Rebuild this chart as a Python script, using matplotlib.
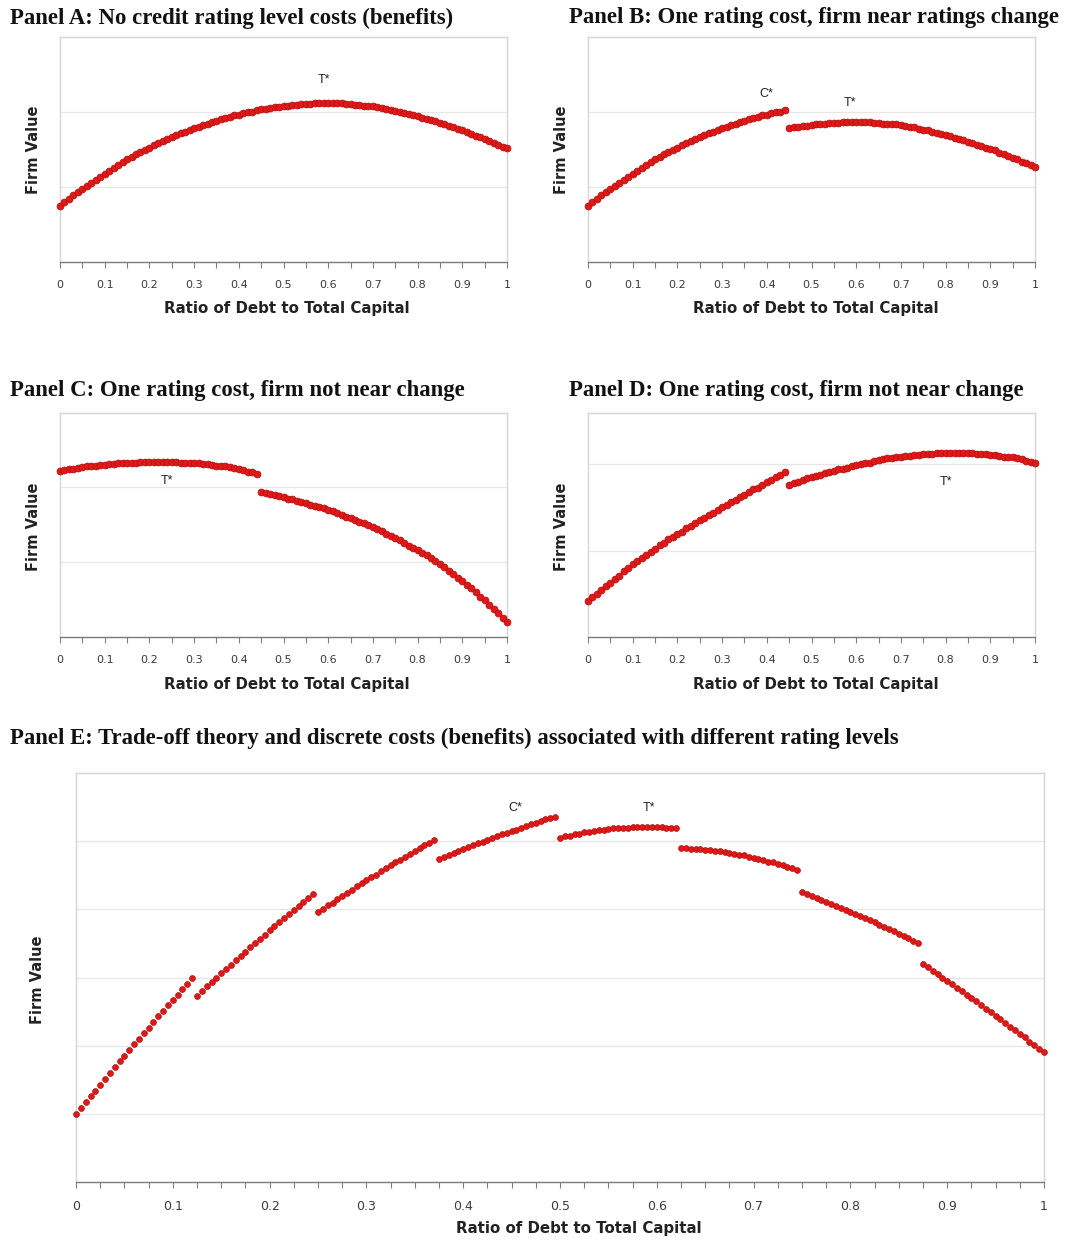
import numpy as np
import matplotlib.pyplot as plt

# Debt-to-capital grids the firm value was evaluated on
debt_ratio = np.linspace(0, 1, 101)
debt_ratio_fine = np.linspace(0, 1, 201)

# Firm value (in gridline units) for each panel
value_a = [0.75, 0.80, 0.84, 0.89, 0.93, 0.97, 1.01, 1.06, 1.10, 1.14,
           1.18, 1.22, 1.26, 1.30, 1.33, 1.37, 1.40, 1.44, 1.47, 1.50,
           1.53, 1.56, 1.59, 1.62, 1.64, 1.67, 1.70, 1.72, 1.74, 1.77,
           1.79, 1.81, 1.83, 1.85, 1.87, 1.89, 1.91, 1.92, 1.94, 1.96,
           1.97, 1.99, 2.00, 2.01, 2.03, 2.04, 2.05, 2.06, 2.07, 2.07,
           2.08, 2.09, 2.10, 2.10, 2.11, 2.11, 2.11, 2.12, 2.12, 2.12,
           2.12, 2.12, 2.12, 2.12, 2.11, 2.11, 2.10, 2.10, 2.09, 2.09,
           2.08, 2.07, 2.06, 2.05, 2.03, 2.02, 2.01, 1.99, 1.98, 1.96,
           1.95, 1.93, 1.91, 1.90, 1.88, 1.86, 1.84, 1.82, 1.80, 1.78,
           1.76, 1.74, 1.71, 1.69, 1.67, 1.64, 1.62, 1.59, 1.57, 1.54,
           1.52]

value_b = [0.75, 0.80, 0.84, 0.89, 0.93, 0.97, 1.01, 1.06, 1.10, 1.14,
           1.18, 1.22, 1.26, 1.30, 1.33, 1.37, 1.40, 1.44, 1.47, 1.50,
           1.53, 1.56, 1.59, 1.62, 1.64, 1.67, 1.70, 1.72, 1.74, 1.77,
           1.79, 1.81, 1.83, 1.85, 1.87, 1.89, 1.91, 1.92, 1.94, 1.96,
           1.97, 1.99, 2.00, 2.01, 2.03,
           1.79, 1.80, 1.81, 1.82, 1.82, 1.83, 1.84, 1.85, 1.85, 1.86,
           1.86, 1.86, 1.87, 1.87, 1.87, 1.87, 1.87, 1.87, 1.87, 1.86,
           1.86, 1.85, 1.85, 1.84, 1.84, 1.83, 1.82, 1.81, 1.80, 1.78,
           1.77, 1.76, 1.74, 1.73, 1.71, 1.70, 1.68, 1.66, 1.65, 1.63,
           1.61, 1.59, 1.57, 1.55, 1.53, 1.51, 1.49, 1.46, 1.44, 1.42,
           1.39, 1.37, 1.34, 1.32, 1.29, 1.27]

value_c = [2.22, 2.23, 2.24, 2.25, 2.26, 2.27, 2.28, 2.28, 2.29, 2.30,
           2.30, 2.31, 2.31, 2.32, 2.32, 2.33, 2.33, 2.33, 2.34, 2.34,
           2.34, 2.34, 2.34, 2.34, 2.34, 2.34, 2.34, 2.33, 2.33, 2.33,
           2.32, 2.32, 2.31, 2.31, 2.30, 2.29, 2.28, 2.28, 2.27, 2.26,
           2.24, 2.23, 2.21, 2.20, 2.18,
           1.94, 1.93, 1.91, 1.90, 1.88, 1.87, 1.85, 1.84, 1.82, 1.81,
           1.79, 1.77, 1.75, 1.74, 1.72, 1.70, 1.68, 1.66, 1.63, 1.61,
           1.59, 1.57, 1.54, 1.52, 1.49, 1.47, 1.44, 1.41, 1.38, 1.35,
           1.32, 1.29, 1.26, 1.22, 1.19, 1.16, 1.12, 1.09, 1.05, 1.01,
           0.97, 0.93, 0.88, 0.84, 0.79, 0.75, 0.70, 0.65, 0.60, 0.54,
           0.49, 0.43, 0.38, 0.32, 0.26, 0.20]

value_d = [0.42, 0.46, 0.50, 0.55, 0.59, 0.63, 0.67, 0.71, 0.76, 0.80,
           0.84, 0.88, 0.92, 0.95, 0.99, 1.02, 1.06, 1.09, 1.13, 1.16,
           1.19, 1.22, 1.26, 1.29, 1.32, 1.35, 1.38, 1.41, 1.44, 1.47,
           1.50, 1.53, 1.56, 1.59, 1.62, 1.65, 1.68, 1.71, 1.73, 1.76,
           1.79, 1.82, 1.85, 1.88, 1.91,
           1.76, 1.78, 1.80, 1.82, 1.84, 1.85, 1.87, 1.88, 1.90, 1.91,
           1.92, 1.94, 1.95, 1.96, 1.98, 1.99, 2.00, 2.01, 2.02, 2.04,
           2.05, 2.06, 2.07, 2.07, 2.08, 2.09, 2.10, 2.10, 2.11, 2.11,
           2.12, 2.12, 2.12, 2.13, 2.13, 2.13, 2.13, 2.13, 2.13, 2.13,
           2.13, 2.13, 2.12, 2.12, 2.12, 2.11, 2.11, 2.10, 2.09, 2.09,
           2.08, 2.07, 2.06, 2.04, 2.03, 2.01]

value_e = [1.00, 1.09, 1.17, 1.26, 1.34, 1.43, 1.51, 1.60, 1.68, 1.77,
           1.85, 1.93, 2.02, 2.10, 2.18, 2.26, 2.35, 2.43, 2.51, 2.59,
           2.67, 2.75, 2.83, 2.91, 2.99,
           2.73, 2.80, 2.87, 2.93, 3.00, 3.06, 3.13, 3.19, 3.26, 3.32,
           3.38, 3.45, 3.51, 3.57, 3.63, 3.69, 3.75, 3.81, 3.87, 3.93,
           3.99, 4.05, 4.11, 4.17, 4.23,
           3.96, 4.01, 4.06, 4.10, 4.15, 4.20, 4.24, 4.29, 4.34, 4.38,
           4.43, 4.47, 4.51, 4.56, 4.60, 4.65, 4.69, 4.73, 4.77, 4.81,
           4.86, 4.90, 4.94, 4.98, 5.02,
           4.74, 4.77, 4.80, 4.83, 4.86, 4.88, 4.91, 4.94, 4.97, 4.99,
           5.02, 5.05, 5.07, 5.10, 5.12, 5.15, 5.17, 5.20, 5.22, 5.25,
           5.27, 5.29, 5.32, 5.34, 5.36,
           5.05, 5.07, 5.08, 5.10, 5.11, 5.13, 5.14, 5.15, 5.16, 5.17,
           5.18, 5.19, 5.19, 5.20, 5.20, 5.21, 5.21, 5.21, 5.21, 5.21,
           5.21, 5.21, 5.20, 5.20, 5.19,
           4.90, 4.90, 4.89, 4.89, 4.88, 4.87, 4.87, 4.86, 4.85, 4.84,
           4.82, 4.81, 4.80, 4.79, 4.77, 4.76, 4.74, 4.72, 4.70, 4.69,
           4.67, 4.65, 4.62, 4.60, 4.58,
           4.26, 4.23, 4.20, 4.17, 4.14, 4.11, 4.08, 4.05, 4.02, 3.99,
           3.96, 3.93, 3.90, 3.87, 3.84, 3.81, 3.77, 3.74, 3.71, 3.68,
           3.64, 3.61, 3.58, 3.54, 3.51,
           3.20, 3.15, 3.10, 3.05, 3.00, 2.95, 2.90, 2.85, 2.80, 2.75,
           2.70, 2.65, 2.59, 2.54, 2.49, 2.44, 2.39, 2.33, 2.28, 2.23,
           2.17, 2.12, 2.06, 2.01, 1.95, 1.90]

# Optimum markers: (label, debt ratio, firm value)
marks_a = [("T*", 0.59, 2.43)]
marks_b = [("C*", 0.40, 2.24), ("T*", 0.585, 2.12)]
marks_c = [("T*", 0.24, 2.09)]
marks_d = [("T*", 0.80, 1.80)]
marks_e = [("C*", 0.454, 5.49), ("T*", 0.592, 5.49)]

tick_labels = ["0", "0.1", "0.2", "0.3", "0.4", "0.5", "0.6", "0.7", "0.8", "0.9", "1"]

titles = [
    "Panel A: No credit rating level costs (benefits)",
    "Panel B: One rating cost, firm near ratings change",
    "Panel C: One rating cost, firm not near change",
    "Panel D: One rating cost, firm not near change",
    "Panel E: Trade-off theory and discrete costs (benefits) associated with different rating levels",
]

W, H = 1069, 1241
fig = plt.figure(figsize=(W / 100, H / 100), dpi=100)


def px_rect(left, top, right, bottom):
    return [left / W, (H - bottom) / H, (right - left) / W, (bottom - top) / H]


def draw_panel(rect, x, y, ymax, marks, minor_step, tick_fs, ms):
    ax = fig.add_axes(rect)
    ax.plot(x, y, 'o', ms=ms, mfc='#e01818', mec='#b00d0d', mew=0.5,
            clip_on=False, zorder=3)
    ax.set_xlim(0, 1)
    ax.set_ylim(0, ymax)

    ticks = np.round(np.arange(0, 1 + minor_step / 2, minor_step), 3)
    ax.set_xticks(ticks)
    per = int(round(0.1 / minor_step))
    ax.set_xticklabels([tick_labels[i // per] if i % per == 0 else ""
                        for i in range(len(ticks))])
    ax.tick_params(axis='x', direction='out', length=4, width=0.8,
                   color='#808080', pad=9, labelsize=tick_fs,
                   labelcolor='#3a3a3a')

    ax.set_yticks(range(1, int(np.ceil(ymax))))
    ax.tick_params(axis='y', length=0, labelleft=False)
    ax.yaxis.grid(True, color='#e6e6e6', lw=0.9)
    ax.set_axisbelow(True)

    for side in ('left', 'top', 'right'):
        ax.spines[side].set_color('#d4d4d4')
        ax.spines[side].set_linewidth(1.0)
    ax.spines['bottom'].set_color('#7a7a7a')
    ax.spines['bottom'].set_linewidth(1.0)

    for text, mx, my in marks:
        ax.text(mx, my, text, ha='center', va='center', fontsize=9,
                family='Liberation Sans', color='#222222')
    return ax


small = dict(minor_step=0.05, tick_fs=8, ms=5.0)
ax_a = draw_panel(px_rect(60, 37.5, 507, 262), debt_ratio, value_a, 3, marks_a, **small)
ax_b = draw_panel(px_rect(588, 37.5, 1035, 262), debt_ratio, value_b, 3, marks_b, **small)
ax_c = draw_panel(px_rect(60, 412.5, 507, 637), debt_ratio, value_c, 3, marks_c, **small)
ax_d = draw_panel(px_rect(588, 412.5, 1035, 637), debt_ratio, value_d, 2.6, marks_d, **small)
ax_e = draw_panel(px_rect(76, 773, 1044, 1182), debt_ratio_fine, value_e, 6, marks_e,
                  minor_step=0.025, tick_fs=9, ms=4.2)

# axis titles, placed in figure pixels
label_font = dict(family='DejaVu Sans', weight='bold', color='#222222')
for cx, cy in [(287, 309), (816, 309), (287, 684), (816, 684), (579, 1229)]:
    fig.text(cx / W, 1 - cy / H, "Ratio of Debt to Total Capital", ha='center',
             va='center', fontsize=10.8, **label_font)
for cx, cy in [(34, 150), (562, 150), (34, 527), (562, 527), (37, 980)]:
    fig.text(cx / W, 1 - cy / H, "Firm Value", ha='center', va='center',
             rotation=90, fontsize=10.5, **label_font)

for (tx, ty), title in zip([(10, 18), (569, 18), (10, 391), (569, 391), (10, 738)], titles):
    fig.text(tx / W, 1 - ty / H, title, ha='left', va='center', fontsize=16.4,
             family='Liberation Serif', weight='bold', color='#111111')

fig.savefig("out.png", dpi=100, facecolor='white')
